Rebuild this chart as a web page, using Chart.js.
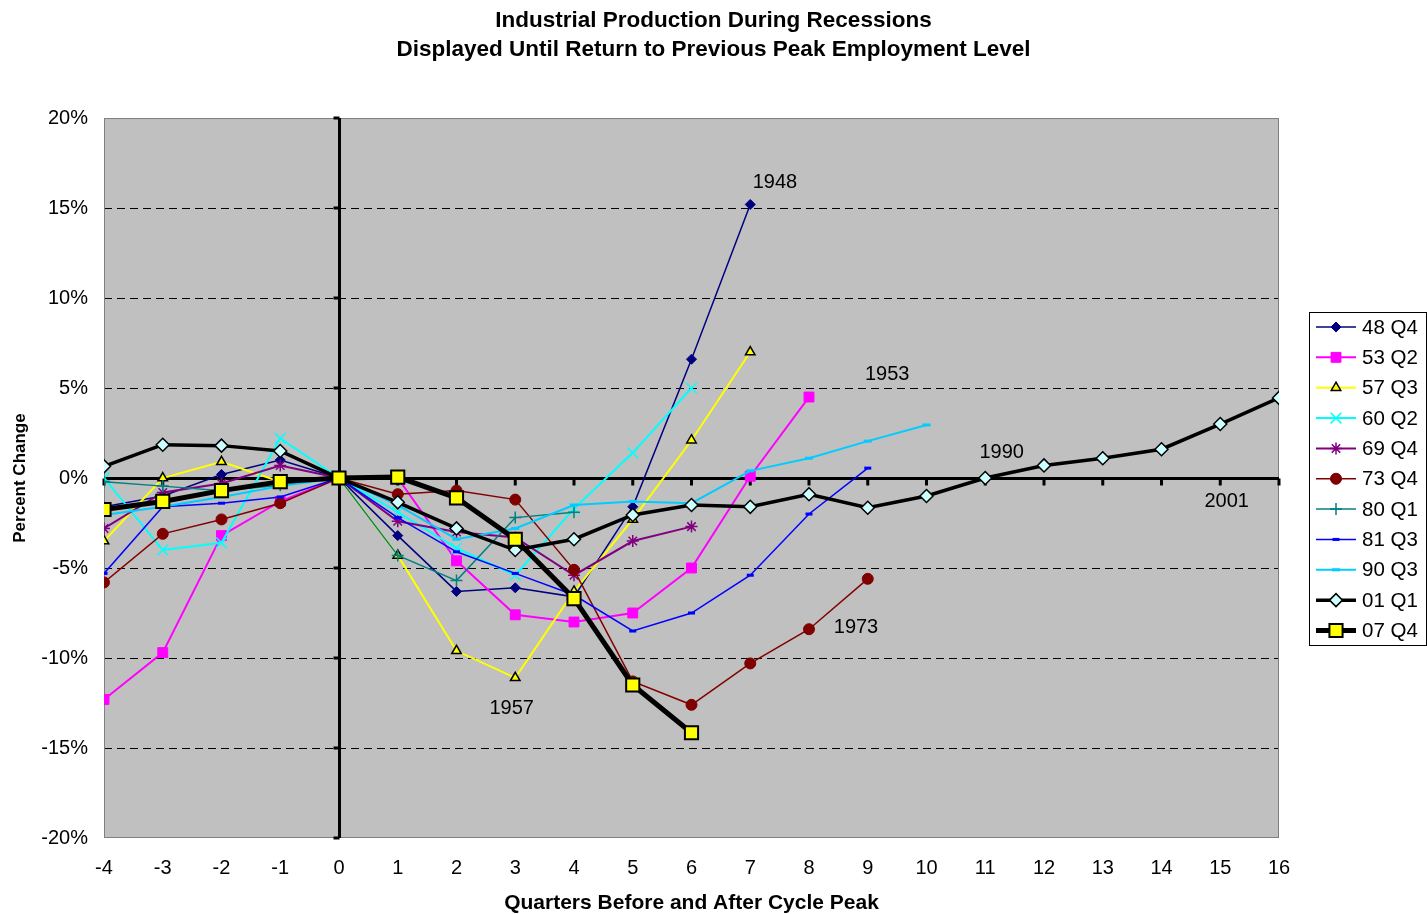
<!DOCTYPE html>
<html>
<head>
<meta charset="utf-8">
<script src="https://cdn.jsdelivr.net/npm/chart.js@4/dist/chart.umd.min.js"></script>
<style>
    body { margin: 0; background: #ffffff; }
    canvas { display: block; }
</style>
</head>
<body>
<canvas id="ip_chart" width="1427" height="914"></canvas>
<script>
var quarters = [-4, -3, -2, -1, 0, 1, 2, 3, 4, 5, 6, 7, 8, 9, 10, 11, 12, 13, 14, 15, 16];

var yTicks = [-20, -15, -10, -5, 0, 5, 10, 15, 20];

// percent change from cycle peak, one value per quarter starting at -4
var s48q4 = [-1.6, -1.0, 0.2, 1.0, 0, -3.2, -6.3, -6.1, -6.6, -1.6, 6.6, 15.2];
var s53q2 = [-12.3, -9.7, -3.2, -1.3, 0, 0.0, -4.6, -7.6, -8.0, -7.5, -5.0, 0.1, 4.5];
var s57q3 = [-3.5, 0.0, 0.9, -0.2, 0, -4.3, -9.6, -11.1, -6.3, -2.3, 2.1, 7.0];
var s60q2 = [0.0, -4.0, -3.6, 2.2, 0, -1.9, -3.9, -5.4, -1.7, 1.4, 5.0];
var s69q4 = [-2.8, -0.8, -0.3, 0.7, 0, -2.4, -3.0, -3.3, -5.4, -3.5, -2.7];
var s73q4 = [-5.8, -3.1, -2.3, -1.4, 0, -0.9, -0.7, -1.2, -5.1, -11.3, -12.6, -10.3, -8.4, -5.6];
var s80q1 = [-0.2, -0.45, -0.7, -0.4, 0, -4.3, -5.7, -2.2, -1.9];
var s81q3 = [-5.3, -1.6, -1.4, -1.05, 0, -2.2, -4.1, -5.3, -6.5, -8.5, -7.5, -5.4, -2.0, 0.55];
var s90q3 = [-2.05, -1.6, -1.05, -0.45, 0, -1.5, -3.4, -2.8, -1.5, -1.3, -1.4, 0.4, 1.1, 2.05, 2.95];
var s01q1 = [0.65, 1.85, 1.8, 1.5, 0, -1.35, -2.8, -4.0, -3.4, -2.05, -1.5, -1.6, -0.9, -1.65, -1.0, 0.0, 0.7, 1.1, 1.6, 3.0, 4.45];
var s07q4 = [-1.75, -1.3, -0.7, -0.2, 0, 0.05, -1.1, -3.4, -6.7, -11.5, -14.15];

var seriesNames = ['48 Q4', '53 Q2', '57 Q3', '60 Q2', '69 Q4', '73 Q4', '80 Q1', '81 Q3', '90 Q3', '01 Q1', '07 Q4'];
var seriesValues = [s48q4, s53q2, s57q3, s60q2, s69q4, s73q4, s80q1, s81q3, s90q3, s01q1, s07q4];

// year labels written inside the plot
var noteText = ['1948', '1953', '1957', '1973', '1990', '2001'];
var noteX = [7.42, 9.33, 2.94, 8.8, 11.28, 15.11];
var noteY = [16.4, 5.78, -12.83, -8.33, 1.44, -1.33];

var FONT = "'Liberation Sans', Arial, sans-serif";

var styles = [
    { color: '#000080', width: 1.5, point: 'rectRot', radius: 5, fill: '#000080', edge: '#000080', edgeWidth: 1 },
    { color: '#FF00FF', width: 2, point: 'rect', radius: 7, fill: '#FF00FF', edge: '#FF00FF', edgeWidth: 1 },
    { color: '#FFFF00', width: 2, point: 'triangle', radius: 5.5, fill: '#FFFF00', edge: '#000000', edgeWidth: 1.5 },
    { color: '#00FFFF', width: 2, point: 'crossRot', radius: 7.5, fill: '#00FFFF', edge: '#00FFFF', edgeWidth: 1.5 },
    { color: '#800080', width: 2, point: 'star', radius: 6, fill: '#800080', edge: '#800080', edgeWidth: 1.5 },
    { color: '#800000', width: 1.5, point: 'circle', radius: 5.5, fill: '#800000', edge: '#800000', edgeWidth: 1 },
    { color: '#008080', width: 1.5, point: 'cross', radius: 6, fill: '#008080', edge: '#008080', edgeWidth: 1.5 },
    { color: '#0000FF', width: 1.5, point: 'line', radius: 3.5, fill: '#0000FF', edge: '#0000FF', edgeWidth: 3 },
    { color: '#00CCFF', width: 2, point: 'line', radius: 4, fill: '#00CCFF', edge: '#00CCFF', edgeWidth: 3 },
    { color: '#000000', width: 3.5, point: 'rectRot', radius: 6.5, fill: '#CCFFFF', edge: '#000000', edgeWidth: 1.5 },
    { color: '#000000', width: 5, point: 'rect', radius: 9.3, fill: '#FFFF00', edge: '#000000', edgeWidth: 2 }
];

var datasets = seriesValues.map(function (vals, i) {
    var st = styles[i];
    return {
        label: seriesNames[i],
        data: vals.map(function (v, k) { return { x: quarters[k], y: v }; }),
        xAxisID: 'x',
        yAxisID: 'y',
        borderColor: st.color,
        borderWidth: st.width,
        pointStyle: st.point,
        pointRadius: st.radius,
        pointBackgroundColor: st.fill,
        pointBorderColor: st.edge,
        pointBorderWidth: st.edgeWidth,
        tension: 0,
        order: seriesValues.length - i // later series on top, like the original
    };
});

var plotDecor = {
    id: 'plotDecor',
    beforeDraw: function (chart) {
        var a = chart.chartArea, ctx = chart.ctx;
        ctx.save();
        ctx.fillStyle = '#C0C0C0';
        ctx.fillRect(a.left, a.top, a.right - a.left, a.bottom - a.top);
        ctx.restore();
    },
    beforeDatasetsDraw: function (chart) {
        var a = chart.chartArea, ctx = chart.ctx;
        var xs = chart.scales.x, ys = chart.scales.y;
        var x0 = Math.round(xs.getPixelForValue(0)) + 0.5;
        var y0 = Math.round(ys.getPixelForValue(0)) + 0.5;
        ctx.save();
        ctx.strokeStyle = '#808080';
        ctx.lineWidth = 1;
        ctx.strokeRect(a.left + 0.5, a.top + 0.5, a.right - a.left - 1, a.bottom - a.top - 1);

        ctx.strokeStyle = '#000000';
        ctx.lineWidth = 3;
        ctx.beginPath();
        ctx.moveTo(a.left, y0);
        ctx.lineTo(a.right, y0);
        ctx.moveTo(x0, a.top);
        ctx.lineTo(x0, a.bottom);
        ctx.stroke();

        // tick marks on the zero lines
        ctx.lineWidth = 3;
        ctx.beginPath();
        xs.ticks.forEach(function (t) {
            var px = xs.getPixelForValue(t.value);
            ctx.moveTo(px, y0);
            ctx.lineTo(px, y0 + 7);
        });
        ys.ticks.forEach(function (t) {
            var py = ys.getPixelForValue(t.value);
            ctx.moveTo(x0 - 6, py);
            ctx.lineTo(x0, py);
        });
        ctx.stroke();
        ctx.restore();
    },
    afterDatasetsDraw: function (chart) {
        var ctx = chart.ctx;
        var xs = chart.scales.x, ys = chart.scales.y;
        ctx.save();
        ctx.fillStyle = '#000000';
        ctx.font = '20px ' + FONT;
        ctx.textAlign = 'center';
        ctx.textBaseline = 'middle';
        noteText.forEach(function (txt, i) {
            ctx.fillText(txt, xs.getPixelForValue(noteX[i]), ys.getPixelForValue(noteY[i]));
        });

        // legend box on the right
        var bx = 1309.5, by = 312.5, bw = 117, bh = 333;
        ctx.fillStyle = '#ffffff';
        ctx.fillRect(bx, by, bw, bh);
        ctx.strokeStyle = '#000000';
        ctx.lineWidth = 1;
        ctx.strokeRect(bx, by, bw, bh);
        ctx.textAlign = 'left';
        ctx.font = '20.5px ' + FONT;
        chart.data.datasets.forEach(function (ds, i) {
            var st = styles[i];
            var ly = 327 + i * 30.35;
            ctx.strokeStyle = st.color;
            ctx.lineWidth = st.width;
            ctx.beginPath();
            ctx.moveTo(1316, ly);
            ctx.lineTo(1356, ly);
            ctx.stroke();
            ctx.fillStyle = st.fill;
            ctx.strokeStyle = st.edge;
            ctx.lineWidth = st.edgeWidth;
            Chart.helpers.drawPoint(ctx, { pointStyle: st.point, radius: st.radius, rotation: 0, borderWidth: st.edgeWidth }, 1336, ly);
            ctx.fillStyle = '#000000';
            ctx.fillText(ds.label, 1362, ly + 1);
        });
        ctx.restore();
    }
};

var ctx = document.getElementById('ip_chart').getContext('2d');
var ipChart = new Chart(ctx, {
    type: 'line',
    data: { datasets: datasets },
    options: {
        responsive: false,
        animation: false,
        devicePixelRatio: 1,
        layout: {
            padding: 0
        },
        plugins: {
            legend: { display: false },
            tooltip: { enabled: false },
            title: {
                display: true,
                text: ['Industrial Production During Recessions', 'Displayed Until Return to Previous Peak Employment Level'],
                color: '#000000',
                font: { family: FONT, size: 22.5, weight: 'bold', lineHeight: 1.29 },
                padding: { top: 6, bottom: 54 }
            }
        },
        scales: {
            x: {
                type: 'linear',
                min: -4,
                max: 16,
                ticks: {
                    stepSize: 1,
                    color: '#000000',
                    font: { family: FONT, size: 20 },
                    padding: 18,
                    maxRotation: 0
                },
                grid: { display: false, drawTicks: false },
                border: { display: false },
                title: {
                    display: true,
                    text: 'Quarters Before and After Cycle Peak',
                    color: '#000000',
                    font: { family: FONT, size: 21, weight: 'bold', lineHeight: 1 },
                    padding: { top: 0, bottom: 0.5 }
                },
                afterFit: function (scale) { scale.height = 76; }
            },
            y: {
                type: 'linear',
                position: 'left',
                min: -20,
                max: 20,
                afterBuildTicks: function (scale) {
                    scale.ticks = yTicks.map(function (v) { return { value: v }; });
                },
                ticks: {
                    color: '#000000',
                    font: { family: FONT, size: 20 },
                    padding: 16,
                    callback: function (v) { return v + '%'; }
                },
                grid: {
                    drawTicks: false,
                    lineWidth: 1,
                    color: function (c) {
                        return (c.tick && Math.abs(c.tick.value) < 20) ? '#000000' : 'rgba(0,0,0,0)';
                    }
                },
                border: { display: false, dash: [8, 5] },
                title: {
                    display: true,
                    text: 'Percent Change',
                    color: '#000000',
                    font: { family: FONT, size: 17, weight: 'bold' },
                    padding: { top: 10, bottom: 0 }
                },
                afterFit: function (scale) { scale.width = 104; }
            },
            // empty right-hand strip that holds the legend
            legendStrip: {
                type: 'linear',
                axis: 'y',
                position: 'right',
                min: -20,
                max: 20,
                ticks: { display: false },
                grid: { display: false, drawTicks: false },
                border: { display: false },
                afterFit: function (scale) { scale.width = 148; }
            }
        }
    },
    plugins: [plotDecor]
});
</script>
</body>
</html>
